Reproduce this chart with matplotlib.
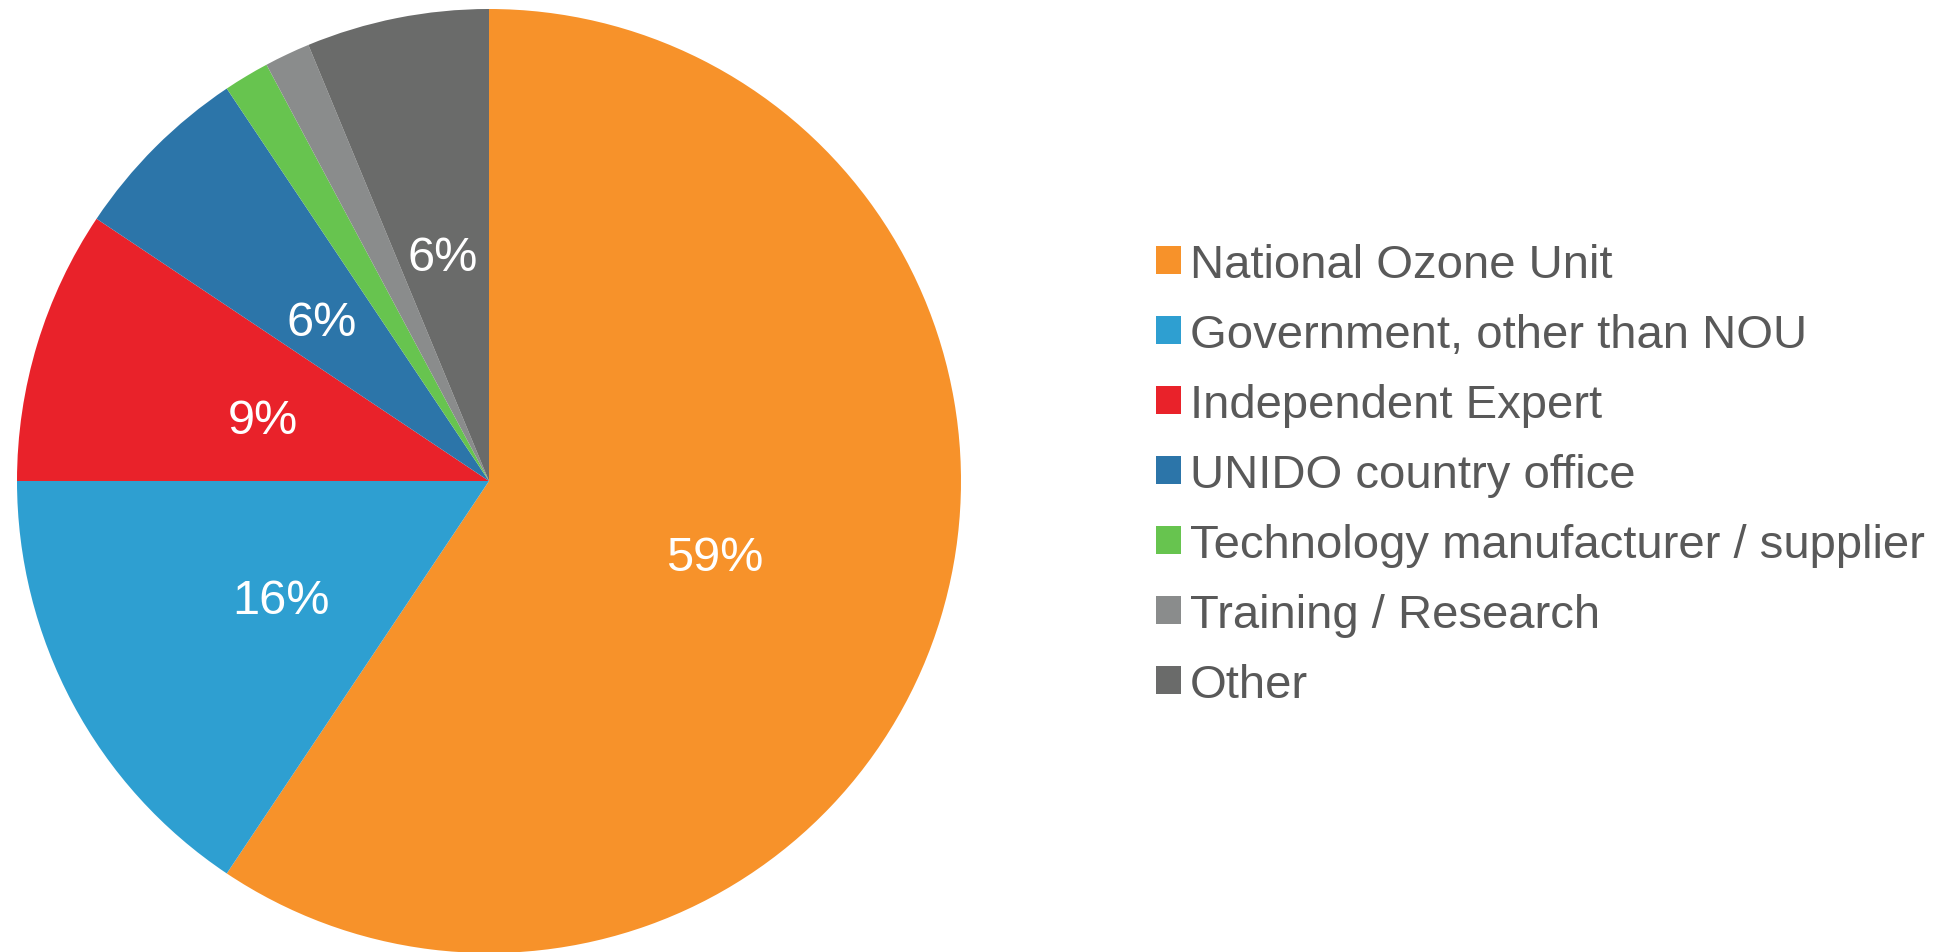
import matplotlib
matplotlib.use("Agg")
import matplotlib.pyplot as plt
from matplotlib.patches import Patch
from matplotlib.transforms import offset_copy

plt.rcParams['font.family'] = ['Liberation Sans', 'DejaVu Sans']

categories = ["National Ozone Unit", "Government, other than NOU", "Independent Expert",
              "UNIDO country office", "Technology manufacturer / supplier",
              "Training / Research", "Other"]
counts = [38, 10, 6, 4, 1, 1, 4]
colors = ["#F7922A", "#2E9FD1", "#E9222A", "#2C75A9", "#67C44F", "#8A8C8C", "#6A6B6A"]

W, H = 1958, 953
fig = plt.figure(figsize=(W / 100, H / 100), dpi=100)

cx, cy, r = 489, 482, 472
ax = fig.add_axes([(cx - r) / W, (H - cy - r) / H, 2 * r / W, 2 * r / H])

def fmt(p):
    return f"{p:.0f}%" if p >= 3 else ""

wedges, texts, autotexts = ax.pie(
    counts, colors=colors, startangle=90, counterclock=False,
    autopct=fmt, pctdistance=0.5, radius=1.0,
    wedgeprops=dict(linewidth=0),
    textprops=dict(color="white", fontsize=35))
shift = offset_copy(ax.transData, fig=fig, x=0, y=-3, units='dots')
for t in autotexts:
    t.set_va('center_baseline')
    t.set_transform(shift)
ax.set_xlim(-1, 1)
ax.set_ylim(-1, 1)
ax.set_aspect('equal')
ax.axis('off')
for w in wedges:
    w.set_clip_on(False)

handles = [Patch(facecolor=c, edgecolor='none') for c in colors]
fig.legend(handles, categories, loc='center left',
           bbox_to_anchor=(1156 / W, (H - 476) / H), bbox_transform=fig.transFigure,
           frameon=False, fontsize=34, labelcolor="#595959",
           handlelength=0.53, handleheight=0.53, handletextpad=0.18,
           labelspacing=0.55, borderpad=0, borderaxespad=0)

fig.savefig("out.png", dpi=100)
